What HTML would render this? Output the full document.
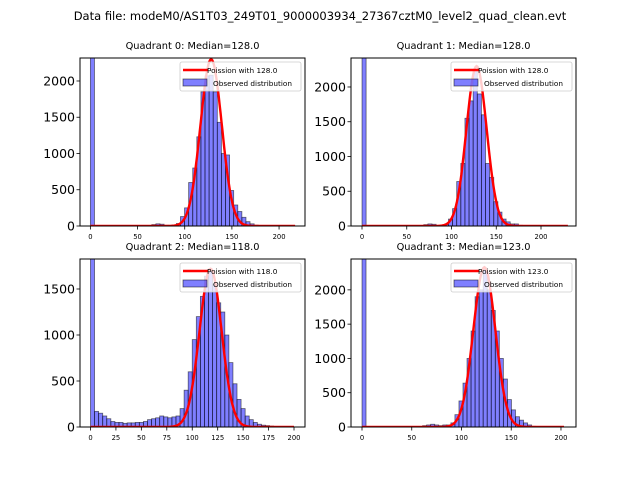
<!DOCTYPE html>
<html><head><meta charset="utf-8"><style>
body{margin:0;background:#fff;}
svg{display:block;font-family:"DejaVu Sans","Liberation Sans",sans-serif;}
</style></head><body>
<svg id="fig" width="640" height="480">
<text x="320" y="20" font-size="11.5" text-anchor="middle">Data file: modeM0/AS1T03_249T01_9000003934_27367cztM0_level2_quad_clean.evt</text>
</svg>
<script>
// Histogram counts per bin (50 bins)
const q0Counts=[5000,0,0,0,0,0,0,0,0,0,0,0,0,0,0,20,30,25,10,10,15,35,130,250,600,800,1230,1850,2070,2080,1850,1430,1000,980,490,290,200,120,60,30,12,8,5,5,3,2,2,1,1,1];
const q1Counts=[5000,0,0,0,0,0,0,0,0,0,0,0,0,0,0,20,30,25,10,15,20,100,250,640,900,1550,1800,2250,1900,1600,900,700,350,200,100,60,30,30,10,8,5,4,3,2,2,1,1,1,1,1];
const q2Counts=[5000,170,150,120,90,60,50,50,40,45,45,50,50,60,80,90,100,120,110,100,110,120,200,400,600,950,1200,1420,1640,1700,1550,1350,1250,1000,700,470,300,200,120,80,50,30,20,15,10,5,4,3,2,1];
const q3Counts=[5000,0,0,0,0,0,0,0,0,0,0,0,0,0,0,20,30,40,30,20,30,30,60,180,380,640,1000,1400,1900,2000,2300,2000,1700,1400,1000,700,400,250,150,100,60,30,10,6,4,3,2,1,1,1];
const dataMax=[217,230,200,203];
const medians=[128,128,118,123];
const curvePeaks=[2300,2300,1720,2330];
const titles=["Quadrant 0: Median=128.0","Quadrant 1: Median=128.0","Quadrant 2: Median=118.0","Quadrant 3: Median=123.0"];
const xTicks=[[0,50,100,150,200],[0,50,100,150,200],[0,25,50,75,100,125,150,175,200],[0,50,100,150,200]];
const yTicks=[[0,500,1000,1500,2000],[0,500,1000,1500,2000],[0,500,1000,1500],[0,500,1000,1500,2000]];

const allCounts=[q0Counts,q1Counts,q2Counts,q3Counts];
const layout=[
 {l:80,t:58,xmin:-11,xmax:227.5,ymax:2317},
 {l:351,t:58,xmin:-12.3,xmax:239.1,ymax:2417},
 {l:80,t:259,xmin:-10.3,xmax:210.8,ymax:1826},
 {l:351,t:259,xmin:-11.06,xmax:215.1,ymax:2450}];
const W=225,H=168,NS="http://www.w3.org/2000/svg";
const fig=document.getElementById('fig');
function mk(tag,attrs,parent){const e=document.createElementNS(NS,tag);for(const k in attrs)e.setAttribute(k,attrs[k]);(parent||fig).appendChild(e);return e;}

for(let q=0;q<4;q++){
 const L=layout[q];
 const g=mk('g',{});
 
 
 const X=v=>L.l+(v-L.xmin)/(L.xmax-L.xmin)*W;
 const Y=v=>L.t+H-Math.min(v,L.ymax*1.05)/L.ymax*H;
 const clip=mk('clipPath',{id:'c'+q},g);
 mk('rect',{x:L.l,y:L.t,width:W,height:H},clip);
 const plot=mk('g',{'clip-path':'url(#c'+q+')'},g);
 const counts=allCounts[q],bw=dataMax[q]/counts.length;
 counts.forEach((c,i)=>{
  if(c<=0)return;
  const r=mk('rect',{x:X(i*bw),y:Y(c),width:X((i+1)*bw)-X(i*bw),height:L.t+H-Y(c),fill:'rgba(0,0,255,0.5)',stroke:'rgba(0,0,0,0.55)','stroke-width':0.8},plot);
  
  
 });
 const lam=medians[q];let pts=[];
 for(let x=0;x<=dataMax[q];x+=1){pts.push(X(x).toFixed(1)+','+Y(curvePeaks[q]*Math.exp(-(x-lam)*(x-lam)/(2*lam))).toFixed(1));}
 const pl=mk('polyline',{points:pts.join(' '),fill:'none',stroke:'#ff0000','stroke-width':2.4},plot);
 
 
 const fr=mk('rect',{x:L.l,y:L.t,width:W,height:H,fill:'none',stroke:'#000','stroke-width':1},g);
 
 
 xTicks[q].forEach(v=>{
  mk('line',{x1:X(v),x2:X(v),y1:L.t+H,y2:L.t+H+3.5,stroke:'#000','stroke-width':0.8},g);
  const t=mk('text',{x:X(v),y:L.t+H+13,'font-size':6.8,'text-anchor':'middle'},g);t.textContent=v;
  
  
 });
 yTicks[q].forEach(v=>{
  mk('line',{x1:L.l-3.5,x2:L.l,y1:Y(v),y2:Y(v),stroke:'#000','stroke-width':0.8},g);
  const t=mk('text',{x:L.l-5,y:Y(v)+4.5,'font-size':12.5,'text-anchor':'end'},g);t.textContent=v;
  
  
 });
 const tt=mk('text',{x:L.l+W/2,y:L.t-9,'font-size':9.8,'text-anchor':'middle'},g);tt.textContent=titles[q];
 
 
 const lg=mk('g',{},g);
 
 
 const lx=L.l+W-125,ly=L.t+4;
 mk('rect',{x:lx,y:ly,width:121,height:29,rx:2,fill:'rgba(255,255,255,0.8)',stroke:'#ccc','stroke-width':0.8},lg);
 mk('line',{x1:lx+3,x2:lx+28,y1:ly+8,y2:ly+8,stroke:'#ff0000','stroke-width':2.4},lg);
 const t1=mk('text',{x:lx+27,y:ly+11,'font-size':7.3},lg);t1.textContent='Poission with '+medians[q].toFixed(1);
 
 
 mk('rect',{x:lx+3,y:ly+17,width:24,height:7,fill:'rgba(0,0,255,0.5)',stroke:'rgba(0,0,0,0.6)','stroke-width':0.8},lg);
 const t2=mk('text',{x:lx+33,y:ly+24,'font-size':7.3},lg);t2.textContent='Observed distribution';
 
 
}
</script>
</body></html>
